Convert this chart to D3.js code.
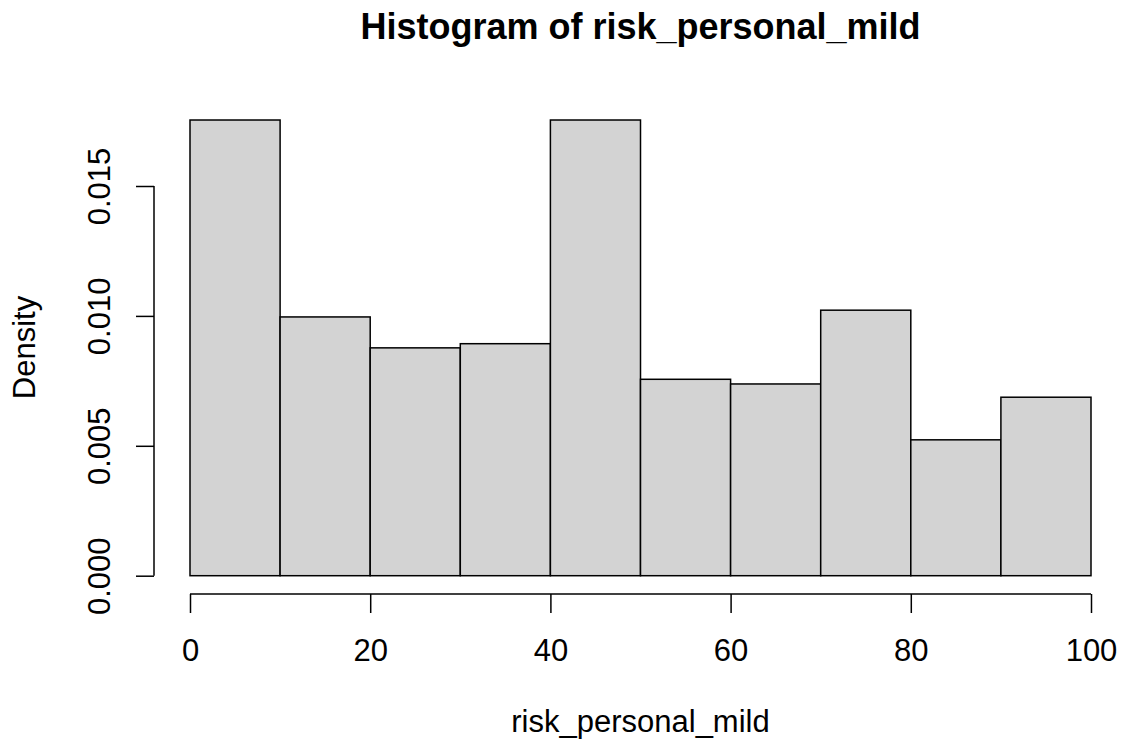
<!DOCTYPE html>
<html>
<head>
<meta charset="utf-8">
<script src="https://cdn.jsdelivr.net/npm/d3@7"></script>
<style>
  html, body { margin: 0; padding: 0; background: #ffffff; }
  svg text { font-family: "Liberation Sans", Arial, Helvetica, sans-serif; fill: #000; }
</style>
</head>
<body>
<svg id="chart" width="1125" height="747"></svg>
<script>
// Histogram bins (lower/upper edges) and their densities
const binStarts = [0, 10, 20, 30, 40, 50, 60, 70, 80, 90];
const binEnds   = [10, 20, 30, 40, 50, 60, 70, 80, 90, 100];
const densities = [0.01754, 0.00996, 0.00877, 0.00893, 0.01754, 0.00756, 0.00738, 0.01022, 0.00523, 0.00687];
const xTicks = [0, 20, 40, 60, 80, 100];
const yTicks = [0.000, 0.005, 0.010, 0.015];
const titleText = "Histogram of risk_personal_mild";
const xLabel = "risk_personal_mild";
const yLabel = "Density";

const svg = d3.select("#chart");
const axisFont = 31;

const x = d3.scaleLinear().domain([0, 100]).range([190, 1091]);
const y = d3.scaleLinear().domain([0, 0.015]).range([575.7, 186]);

// Bars
svg.append("g")
  .selectAll("rect")
  .data(densities)
  .join("rect")
  .attr("x", (d, i) => x(binStarts[i]))
  .attr("width", (d, i) => x(binEnds[i]) - x(binStarts[i]))
  .attr("y", d => y(d))
  .attr("height", d => y(0) - y(d))
  .attr("fill", "#d3d3d3")
  .attr("stroke", "#000")
  .attr("stroke-width", 1.5);

// X axis (offset below the plot, R style)
const xAxis = d3.axisBottom(x)
  .tickValues(xTicks)
  .tickSize(19)
  .tickFormat(d3.format("d"));
const gx = svg.append("g")
  .attr("transform", "translate(0,594)")
  .call(xAxis);
gx.select(".domain").attr("stroke", "#000").attr("stroke-width", 1.5)
  .attr("d", `M${x(0)},0H${x(100)}`);
gx.selectAll(".tick line").attr("stroke", "#000").attr("stroke-width", 1.5);
gx.selectAll(".tick text")
  .attr("font-size", axisFont)
  .attr("font-family", "Liberation Sans, Arial, sans-serif")
  .attr("dy", null)
  .attr("y", 67);

// Y axis (offset left of the plot)
const yAxis = d3.axisLeft(y)
  .tickValues(yTicks)
  .tickSize(18)
  .tickFormat(d3.format(".3f"));
const gy = svg.append("g")
  .attr("transform", "translate(154,0)")
  .call(yAxis);
gy.select(".domain").attr("stroke", "#000").attr("stroke-width", 1.5)
  .attr("d", `M0,${y(0)}V${y(0.015)}`);
gy.selectAll(".tick line").attr("stroke", "#000").attr("stroke-width", 1.5);
gy.selectAll(".tick text")
  .attr("font-size", axisFont)
  .attr("font-family", "Liberation Sans, Arial, sans-serif")
  .attr("text-anchor", "middle")
  .attr("x", null)
  .attr("dy", null)
  .attr("transform", "translate(-44,0) rotate(-90)")
  .attr("y", 0);

// Title
svg.append("text")
  .attr("x", 640.5)
  .attr("y", 39)
  .attr("text-anchor", "middle")
  .attr("font-size", 36)
  .attr("font-weight", "bold")
  .text(titleText);

// Axis titles
svg.append("text")
  .attr("x", 640.5)
  .attr("y", 732)
  .attr("text-anchor", "middle")
  .attr("font-size", axisFont)
  .text(xLabel);

svg.append("text")
  .attr("transform", "translate(35,347.5) rotate(-90)")
  .attr("text-anchor", "middle")
  .attr("font-size", axisFont)
  .text(yLabel);
</script>
</body>
</html>
